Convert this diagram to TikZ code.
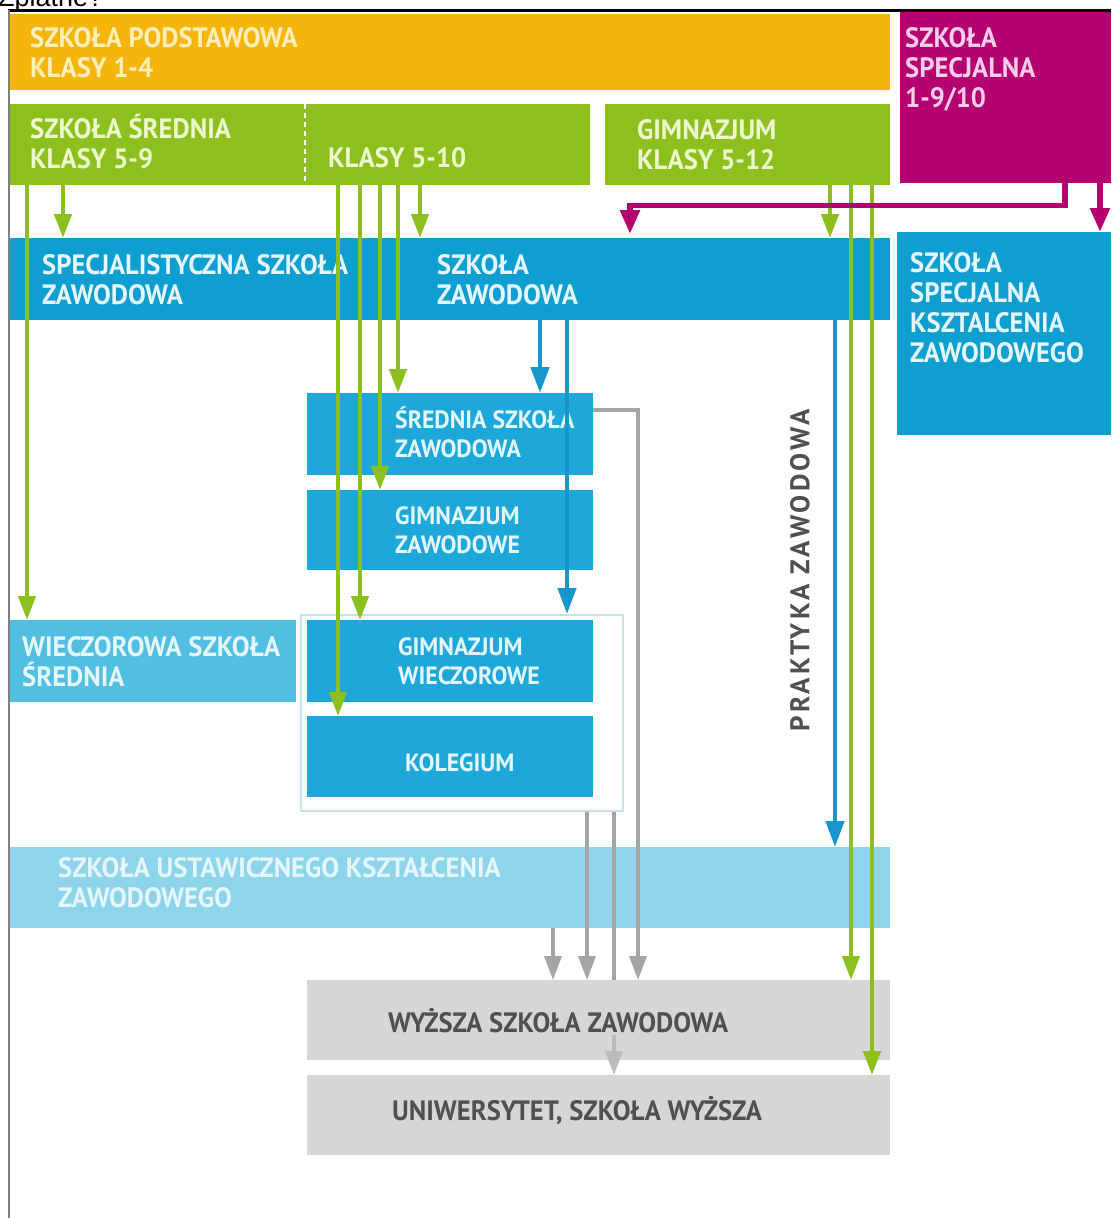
\documentclass[tikz,border=0pt]{standalone}
\usepackage{fontspec}
\setmainfont{PT Sans}[FakeStretch=0.95]
\newfontfamily\spacedfont{PT Sans}[LetterSpace=12]
\newfontfamily\capfont{Liberation Sans}
\usetikzlibrary{arrows.meta}

\definecolor{podstyellow}{RGB}{245,182,12}
\definecolor{podsttext}{RGB}{255,238,185}
\definecolor{specmag}{RGB}{181,0,112}
\definecolor{spectext}{RGB}{252,205,235}
\definecolor{sredgreen}{RGB}{141,192,30}
\definecolor{sredtext}{RGB}{238,248,205}
\definecolor{zawblue}{RGB}{14,158,208}
\definecolor{midblue}{RGB}{30,168,218}
\definecolor{eveblue}{RGB}{82,190,226}
\definecolor{ustblue}{RGB}{142,212,234}
\definecolor{bluetext}{RGB}{228,246,255}
\definecolor{arrblue}{RGB}{22,150,205}
\definecolor{grpframe}{RGB}{200,226,236}
\definecolor{highgrey}{RGB}{214,214,214}
\definecolor{arrgrey}{RGB}{165,165,165}
\definecolor{txtgrey}{RGB}{80,80,80}

\tikzset{
	zone/.style 2 args={rectangle, anchor=north west, inner sep=0pt, minimum width=#1, minimum height=#2},
	tag/.style={anchor=west, align=left, inner sep=0pt, text=bluetext, font=\bfseries\fontsize{28}{30}\selectfont},
	smalltag/.style={tag, font=\bfseries\fontsize{25}{29}\selectfont},
	greenarr/.style={draw=sredgreen, line width=4.5pt, -{Triangle[length=24pt,width=17pt]}},
	bluearr/.style={draw=arrblue, line width=4.5pt, -{Triangle[length=26pt,width=18pt]}},
	magarr/.style={draw=specmag, line width=5.5pt, -{Triangle[length=24pt,width=19pt]}},
	greyline/.style={draw=arrgrey, line width=3.5pt},
	greyarr/.style={greyline, -{Triangle[length=24pt,width=17pt]}}
}

\begin{document}
\begin{tikzpicture}[x=1pt,y=-1pt]
	\useasboundingbox (0,0) rectangle (1111,1218);
	\node[anchor=base west, inner sep=0pt, font=\capfont\fontsize{27}{30}\selectfont] (zplatne) at (-2,6) {Zpłatne?};
	\draw[line width=2.5pt] (8,10.5) -- (1111,10.5);
	\draw[gray, line width=2pt] (9,10) -- (9,1218);

	\node[zone={880pt}{76pt}, fill=podstyellow] (podst) at (10,14) {};
	\node[tag, text=podsttext] (podsttag) at ([xshift=20pt]podst.west) {SZKOŁA PODSTAWOWA\\KLASY 1-4};

	\node[zone={211pt}{171pt}, fill=specmag] (specjal) at (900,12) {};
	\node[tag, anchor=north west, text=spectext] (specjaltag) at ([xshift=5pt,yshift=-15pt]specjal.north west) {SZKOŁA\\SPECJALNA\\1-9/10};

	\node[zone={295pt}{81pt}, fill=sredgreen] (sredn) at (10,104) {};
	\node[zone={285pt}{81pt}, fill=sredgreen] (klasy) at (305,104) {};
	\draw[white, line width=1.5pt, dash pattern=on 5pt off 4pt] (klasy.north west) -- (klasy.south west);
	\node[tag, text=sredtext] (sredntag) at ([xshift=20pt,yshift=3pt]sredn.west) {SZKOŁA ŚREDNIA\\KLASY 5-9};
	\node[tag, text=sredtext] (klasytag) at ([xshift=23pt,yshift=-13pt]klasy.west) {KLASY 5-10};
	\node[zone={285pt}{81pt}, fill=sredgreen] (gimn) at (605,104) {};
	\node[tag, text=sredtext] (gimntag) at ([xshift=32pt]gimn.west) {GIMNAZJUM\\KLASY 5-12};

	\node[zone={400pt}{82pt}, fill=zawblue] (specz) at (10,238) {};
	\node[zone={480pt}{82pt}, fill=zawblue] (szaw) at (410,238) {};
	\node[tag] (specztag) at ([xshift=32pt]specz.west) {SPECJALISTYCZNA SZKOŁA\\ZAWODOWA};
	\node[tag] (szawtag) at ([xshift=27pt]szaw.west) {SZKOŁA\\ZAWODOWA};
	\node[zone={214pt}{203pt}, fill=zawblue] (kszt) at (897,232) {};
	\node[tag, anchor=north west] (kszttag) at ([xshift=13pt,yshift=-20pt]kszt.north west) {SZKOŁA\\SPECJALNA\\KSZTALCENIA\\ZAWODOWEGO};

	\node[zone={322pt}{196pt}, draw=grpframe, line width=1.5pt, fill=white] (wieczgrp) at (300,614) {};
	\node[zone={286pt}{82pt}, fill=midblue] (sszaw) at (307,393) {};
	\node[zone={286pt}{80pt}, fill=midblue] (gzaw) at (307,490) {};
	\node[zone={286pt}{82pt}, fill=midblue] (gwiecz) at (307,620) {};
	\node[zone={286pt}{81pt}, fill=midblue] (koleg) at (307,716) {};
	\node[zone={286pt}{82pt}, fill=eveblue] (wieczsr) at (10,620) {};
	\node[smalltag] (sszawtag) at ([xshift=88pt,yshift=2pt]sszaw.west) {ŚREDNIA SZKOŁA\\ZAWODOWA};
	\node[smalltag] (gzawtag) at ([xshift=88pt]gzaw.west) {GIMNAZJUM\\ZAWODOWE};
	\node[smalltag] (gwiecztag) at ([xshift=91pt]gwiecz.west) {GIMNAZJUM\\WIECZOROWE};
	\node[smalltag] (kolegtag) at ([xshift=98pt,yshift=-6pt]koleg.west) {KOLEGIUM};
	\node[tag] (wieczsrtag) at ([xshift=12pt]wieczsr.west) {WIECZOROWA SZKOŁA\\ŚREDNIA};

	\node[zone={880pt}{81pt}, fill=ustblue] (ustaw) at (10,847) {};
	\node[tag] (ustawtag) at ([xshift=48pt,yshift=5pt]ustaw.west) {SZKOŁA USTAWICZNEGO KSZTAŁCENIA\\ZAWODOWEGO};
	\node[zone={583pt}{80pt}, fill=highgrey] (wyzsza) at (307,980) {};
	\node[zone={583pt}{80pt}, fill=highgrey] (uniw) at (307,1075) {};
	\node[tag, text=txtgrey] (wyzszatag) at ([xshift=81pt]wyzsza.west) {WYŻSZA SZKOŁA ZAWODOWA};
	\node[tag, text=txtgrey] (uniwtag) at ([xshift=85pt,yshift=5pt]uniw.west) {UNIWERSYTET, SZKOŁA WYŻSZA};

	\node[rotate=90, inner sep=0pt, text=txtgrey, font=\spacedfont\bfseries\fontsize{27}{30}\selectfont] (praktyka) at (800,570) {PRAKTYKA ZAWODOWA};

	\draw[greenarr] ([xshift=17pt]sredn.south west) -- ([xshift=17pt]wieczsr.north west);
	\draw[greenarr] ([xshift=53pt]sredn.south west) -- ([xshift=53pt]specz.north west);
	\draw[greenarr] ([xshift=33pt]klasy.south west) -- ([xshift=31pt]koleg.north west);
	\draw[greenarr] ([xshift=55pt]klasy.south west) -- ([xshift=53pt]gwiecz.north west);
	\draw[greenarr] ([xshift=75pt]klasy.south west) -- ([xshift=73pt]gzaw.north west);
	\draw[greenarr] ([xshift=93pt]klasy.south west) -- ([xshift=91pt]sszaw.north west);
	\draw[greenarr] ([xshift=115pt]klasy.south west) -- ([xshift=10pt]szaw.north west);
	\draw[greenarr] ([xshift=225pt]gimn.south west) -- ([xshift=420pt]szaw.north west);
	\draw[greenarr] ([xshift=246pt]gimn.south west) -- ([xshift=544pt]wyzsza.north west);
	\draw[greenarr] ([xshift=267pt]gimn.south west) -- ([xshift=565pt]uniw.north west);

	\draw[bluearr] ([xshift=130pt]szaw.south west) -- ([xshift=233pt]sszaw.north west);
	\draw[bluearr] ([xshift=157pt]szaw.south west) -- ([xshift=267pt]wieczgrp.north west);
	\draw[bluearr] ([xshift=425pt]szaw.south west) -- ([xshift=825pt]ustaw.north west);

	\draw[magarr] ([xshift=165pt]specjal.south west) -- ++(0,22) -| ([xshift=220pt,yshift=4pt]szaw.north west);
	\draw[magarr] ([xshift=200pt]specjal.south west) -- ([xshift=203pt]kszt.north west);

	\draw[greyarr] ([yshift=-17pt]sszaw.north east) -| ([xshift=331pt]wyzsza.north west);
	\draw[greyarr] ([xshift=287pt]wieczgrp.south west) -- ([xshift=280pt]wyzsza.north west);
	\draw[greyline] ([xshift=314pt]wieczgrp.south west) -- ([xshift=307pt]wyzsza.north west);
	\draw[greyarr] ([xshift=543pt]ustaw.south west) -- ([xshift=246pt]wyzsza.north west);
	\draw[greyarr, draw=arrgrey!75] ([xshift=307pt,yshift=25pt]wyzsza.south west) -- ([xshift=307pt]uniw.north west);
\end{tikzpicture}
\end{document}
